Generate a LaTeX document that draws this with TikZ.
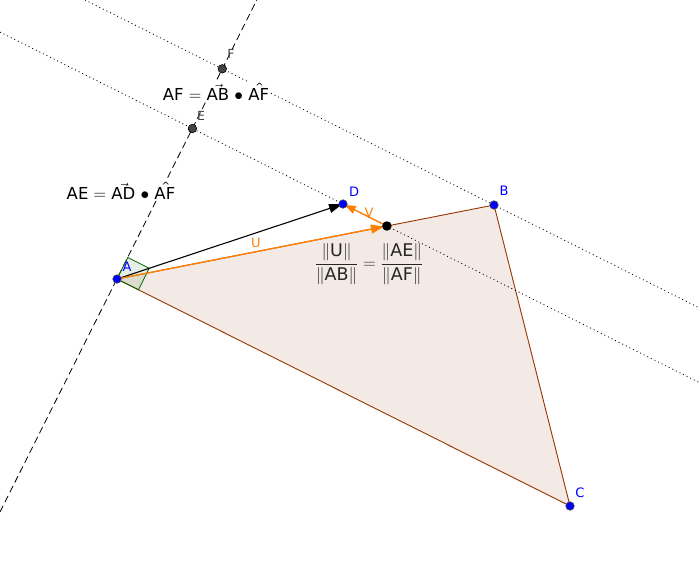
\documentclass[tikz,border=0pt]{standalone}
\usepackage{fontspec}
\setmainfont{DejaVu Sans}
\usetikzlibrary{arrows.meta}
\definecolor{tri}{RGB}{153,51,0}
\definecolor{ggorange}{RGB}{255,127,0}
\definecolor{ggblue}{RGB}{0,0,255}
\definecolor{gggray}{RGB}{68,68,68}
\definecolor{gggreen}{RGB}{0,100,0}
\newcommand{\hatAF}{A\makebox[0pt][c]{\raisebox{0.62em}{\fontsize{10}{10}\selectfont\^{}}}F}
\tikzset{
  bluept/.style={circle,fill=ggblue,draw=black!70,line width=0.6pt,inner sep=0pt,minimum size=8.5pt},
  graypt/.style={circle,fill=gggray,draw=black,line width=0.6pt,inner sep=0pt,minimum size=8.5pt},
  blackpt/.style={circle,fill=black,inner sep=0pt,minimum size=9.5pt},
  ptlabel/.style={text=ggblue,font=\fontsize{13}{13}\selectfont,inner sep=0pt},
  grlabel/.style={text=gggray,font=\fontsize{12.5}{12.5}\selectfont,inner sep=0pt},
  veclabel/.style={text=ggorange,font=\fontsize{13}{13}\selectfont,inner sep=0pt},
  formula/.style={font=\fontsize{16.5}{16.5}\selectfont,inner sep=1pt},
  dashline/.style={line width=0.8pt,dash pattern=on 7pt off 4pt},
  dotline/.style={line width=0.8pt,dash pattern=on 1pt off 3pt},
}
\begin{document}
\begin{tikzpicture}[x=1pt,y=-1pt]
\useasboundingbox[fill=white] (0,0) rectangle (700,571);
% points
\coordinate (A) at (117,279);
\coordinate (B) at (494,205);
\coordinate (C) at (570,506);
\coordinate (D) at (343,204);
\coordinate (E) at (192.4,128.5);
\coordinate (F) at (222.3,68.8);
\coordinate (P) at (386.9,226);
% line ends
\coordinate (pb) at (0,512);
\coordinate (pt) at (256.8,0);
\coordinate (l1a) at (85,0);
\coordinate (l1b) at (700,308.2);
\coordinate (l2a) at (0,32.1);
\coordinate (l2b) at (700,382.9);
% square corners
\coordinate (s1) at (138.5,289.8);
\coordinate (s2) at (149.2,268.2);
\coordinate (s3) at (127.8,257.5);
% triangle
\fill[tri,opacity=0.1] (A) -- (B) -- (C) -- cycle;
\draw[tri,line width=0.9pt] (A) -- (B) -- (C) -- cycle;
% lines
\draw[dashline] (pb) -- (pt);
\draw[dotline] (l1a) -- (l1b);
\draw[dotline] (l2a) -- (l2b);
% right angle
\filldraw[draw=gggreen,fill=gggreen,fill opacity=0.1,line width=0.8pt] (A) -- (s1) -- (s2) -- (s3) -- cycle;
% vectors
\draw[line width=1.1pt,-{Triangle[length=13pt,width=9pt]},shorten >=1pt] (A) -- (D);
\draw[ggorange,line width=1.3pt,-{Triangle[length=13pt,width=9pt]},shorten >=3pt] (A) -- (P);
\draw[ggorange,line width=1.3pt,-{Triangle[length=11pt,width=8pt]},shorten >=2pt] (P) -- (D);
% texts
\node[formula,fill=white] (t1) at (216,92) {AF $=$ $\vec{\mathrm{AB}}$ $\bullet$ \hatAF};
\node[formula,fill=white] (t2) at (121,191) {AE $=$ $\vec{\mathrm{AD}}$ $\bullet$ \hatAF};
\node[font=\fontsize{17.5}{17.5}\selectfont,text=black!85,inner sep=0pt] (t3) at (369,264) {$\displaystyle\frac{\|\mathrm{U}\|}{\|\mathrm{AB}\|}=\frac{\|\mathrm{AE}\|}{\|\mathrm{AF}\|}$};
\node[veclabel] (lu) at (256,243) {U};
\node[veclabel] (lv) at (369,213) {V};
% points
\node[bluept] (nA) at (A) {};
\node[bluept] (nB) at (B) {};
\node[bluept] (nC) at (C) {};
\node[bluept] (nD) at (D) {};
\node[graypt] (nE) at (E) {};
\node[graypt] (nF) at (F) {};
\node[blackpt] (nP) at (P) {};
\node[ptlabel] (lA) at (127,267) {A};
\node[ptlabel] (lB) at (504,191) {B};
\node[ptlabel] (lC) at (580,493) {C};
\node[ptlabel] (lD) at (354,192) {D};
\node[grlabel] (lE) at (201,116) {E};
\node[grlabel] (lF) at (231,54) {F};
\end{tikzpicture}
\end{document}
